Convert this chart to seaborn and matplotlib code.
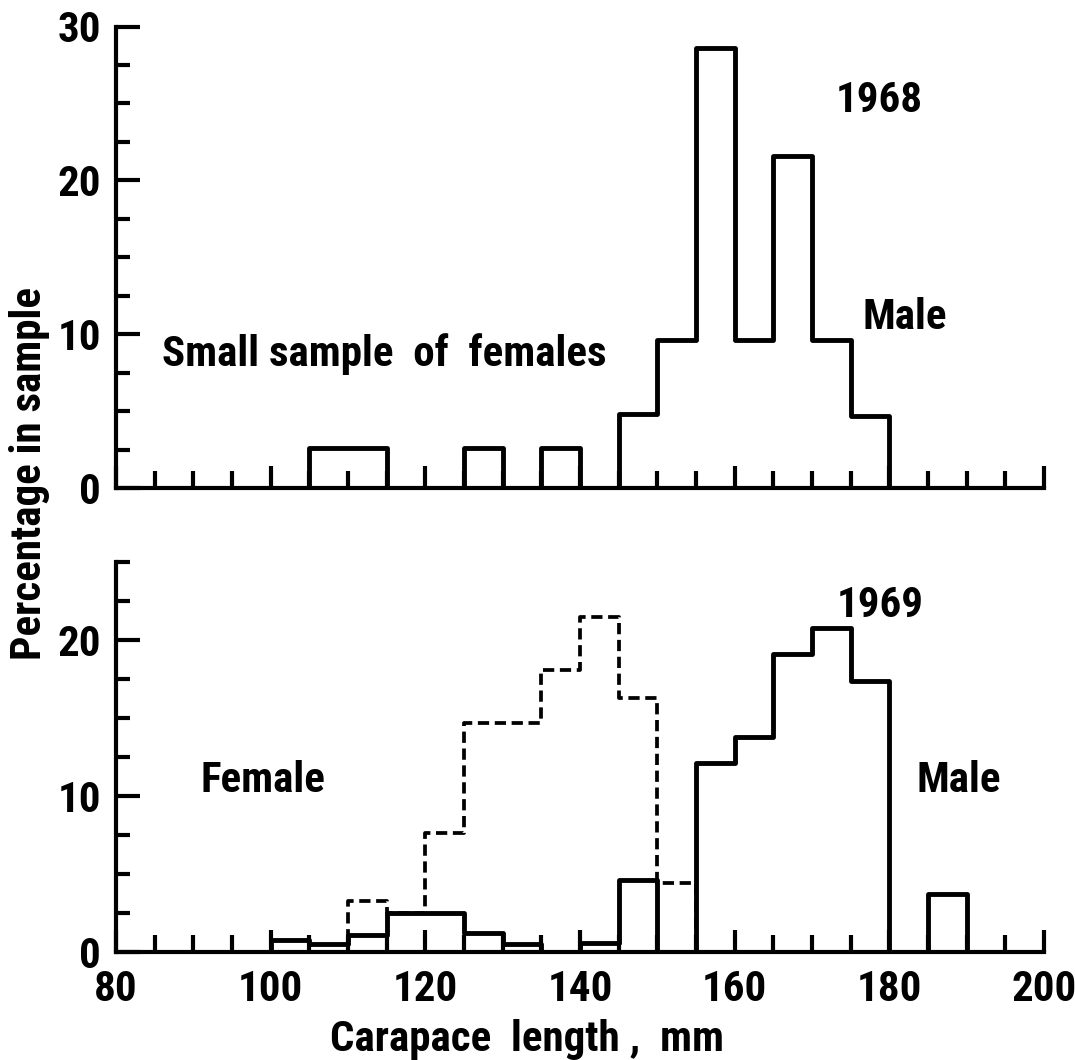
import matplotlib
matplotlib.use("Agg")
import matplotlib.pyplot as plt
from matplotlib import font_manager as fm
from matplotlib.ticker import MultipleLocator
import seaborn as sns

# 1968 sample, 5 mm classes (left edge of each class), % in sample
len_1968 = [100, 105, 110, 115, 120, 125, 130, 135, 140, 145, 150, 155, 160, 165, 170, 175, 180]
pct_1968 = [0, 2.6, 2.6, 0, 0, 2.6, 0, 2.6, 0, 4.8, 9.6, 28.6, 9.6, 21.6, 9.6, 4.7, 0]

# 1969 sample, solid outline
len_1969 = [95, 100, 105, 110, 115, 120, 125, 130, 135, 140, 145, 150, 155, 160, 165, 170, 175, 180, 185, 190]
pct_1969 = [0, 0.8, 0.5, 1.1, 2.5, 2.5, 1.2, 0.5, 0, 0.6, 4.6, 0, 12.1, 13.8, 19.1, 20.8, 17.4, 0, 3.7, 0]

# 1969 sample, dashed outline
len_1969_dash = [105, 110, 115, 120, 125, 130, 135, 140, 145, 150, 155]
pct_1969_dash = [0, 3.25, 2.5, 7.6, 14.7, 14.7, 18.1, 21.5, 16.3, 4.45, 0]

bin_width = 5

sns.set_style("ticks")
plt.rcParams['text.color'] = 'black'
plt.rcParams['xtick.color'] = 'black'
plt.rcParams['ytick.color'] = 'black'

# look for a narrow / condensed bold face, the original lettering is very narrow
narrow = None
prefs = ['Liberation Sans Narrow', 'Roboto Condensed', 'Open Sans Condensed',
         'DejaVu Sans Condensed', 'Noto Sans Condensed', 'Arial Narrow']
fonts = fm.fontManager.ttflist
for p in prefs:
    for f in fonts:
        full = f.name + ' ' + f.fname.split('/')[-1]
        if (p in f.name or p.replace(' ', '') in full) and f.weight in ('bold', 700, 600):
            narrow = f
            break
    if narrow:
        break
if narrow is None:
    for f in fonts:
        fn = f.fname.split('/')[-1]
        if ('Condensed' in fn or 'Narrow' in fn or f.stretch in ('condensed', 'semi-condensed')) \
                and ('Bold' in fn or f.weight in ('bold', 700)):
            narrow = f
            break

if narrow is not None:
    FP = fm.FontProperties(fname=narrow.fname)
    FS = 31
else:
    FP = fm.FontProperties(family='DejaVu Sans', weight='bold')
    FS = 22


def step_hist(ax, lefts, values, **kw):
    centers = [l + bin_width / 2 for l in lefts]
    edges = lefts + [lefts[-1] + bin_width]
    sns.histplot(x=centers, weights=values, bins=edges, element="step",
                 fill=False, color="black", ax=ax, **kw)


def style_axis(ax, ytop, ylab_max, show_xlabels):
    ax.set_xlim(80, 200)
    ax.set_ylim(0, ytop)
    ax.xaxis.set_major_locator(MultipleLocator(20))
    ax.xaxis.set_minor_locator(MultipleLocator(5))
    ax.yaxis.set_minor_locator(MultipleLocator(2.5))
    ax.set_yticks([v for v in [0, 10, 20, 30] if v <= ylab_max])
    ax.tick_params(axis='both', which='both', direction='in', width=3.0)
    ax.tick_params(axis='x', which='major', length=16, pad=12)
    ax.tick_params(axis='x', which='minor', length=12)
    ax.tick_params(axis='y', which='major', length=17, pad=11)
    ax.tick_params(axis='y', which='minor', length=10)
    for lab in ax.get_xticklabels() + ax.get_yticklabels():
        lab.set_fontproperties(FP)
        lab.set_fontsize(FS)
    if not show_xlabels:
        ax.tick_params(axis='x', labelbottom=False)
    for s in ['left', 'bottom']:
        ax.spines[s].set_linewidth(3.0)
        ax.spines[s].set_color('black')
    sns.despine(ax=ax)
    ax.set_xlabel('')
    ax.set_ylabel('')


def label(ax, x, y, s, ha='center'):
    ax.text(x, y, s, fontproperties=FP, fontsize=FS, ha=ha, va='center')


fig = plt.figure(figsize=(10.75, 10.6), dpi=100)
ax1 = fig.add_axes([0.108, 0.5395, 0.863, 0.4355])
ax2 = fig.add_axes([0.108, 0.1019, 0.863, 0.3679])

step_hist(ax1, len_1968, pct_1968, linewidth=3.5)
style_axis(ax1, 30, 30, False)
label(ax1, 178.7, 25.2, '1968')
label(ax1, 182, 11.1, 'Male')
label(ax1, 86, 8.7, 'Small sample  of  females', ha='left')

step_hist(ax2, len_1969_dash, pct_1969_dash, linewidth=2.7, linestyle=(0, (3.0, 1.5)))
step_hist(ax2, len_1969, pct_1969, linewidth=3.5)
style_axis(ax2, 25, 20, True)
label(ax2, 178.8, 22.2, '1969')
label(ax2, 99, 11.0, 'Female')
label(ax2, 189, 11.0, 'Male')

fig.text(0.027, 0.553, 'Percentage in sample', rotation=90, fontproperties=FP,
         fontsize=FS, ha='center', va='center')
fig.text(0.49, 0.019, 'Carapace  length ,  mm', fontproperties=FP, fontsize=FS,
         ha='center', va='center')

fig.savefig('out.png', dpi=100)
